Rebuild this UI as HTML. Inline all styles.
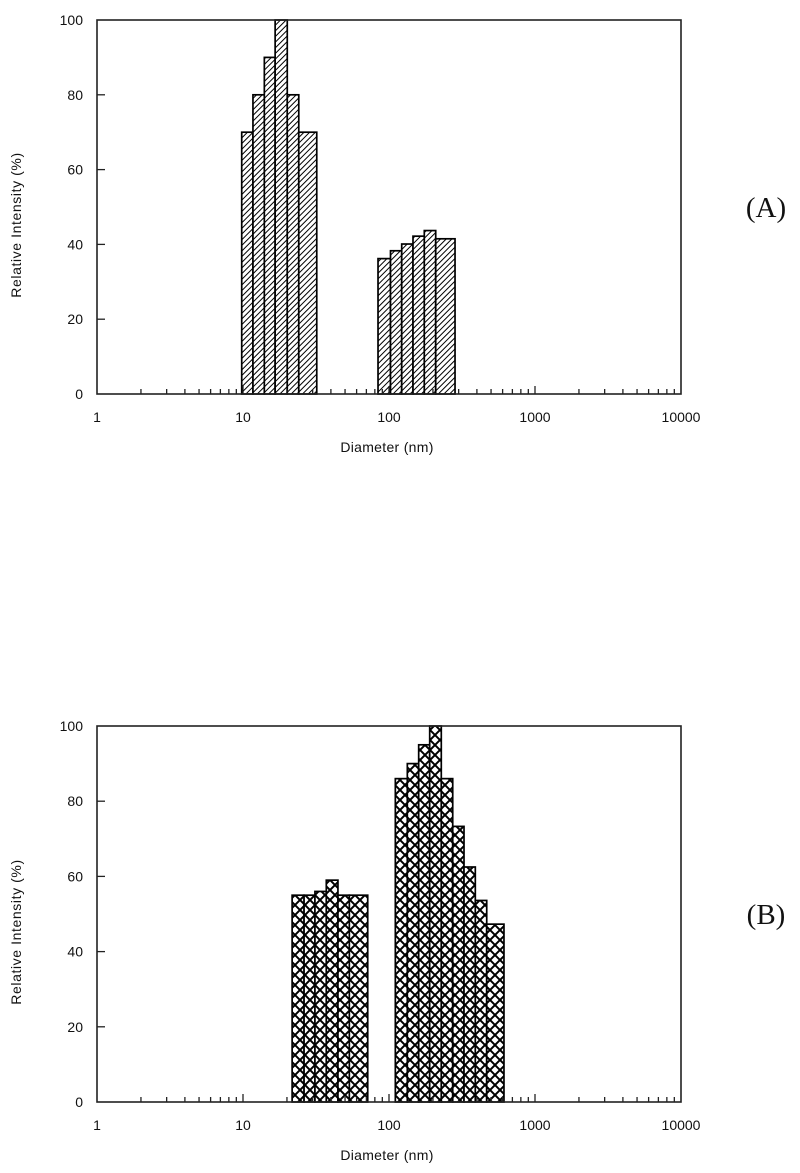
<!DOCTYPE html>
<html><head><meta charset="utf-8"><style>
html,body{margin:0;padding:0;background:#fff;}
svg{display:block;font-family:"Liberation Sans",sans-serif;}
</style></head><body>
<svg id="fig" width="800" height="1173" viewBox="0 0 800 1173">
<defs>
<pattern id="hatchA" patternUnits="userSpaceOnUse" width="4" height="4" patternTransform="rotate(45)">
<rect width="4" height="4" fill="#fff"/><line x1="0" y1="0" x2="0" y2="4" stroke="#000" stroke-width="2"/>
</pattern>
<pattern id="hatchB" patternUnits="userSpaceOnUse" width="10" height="10">
<rect width="10" height="10" fill="#fff"/>
<path d="M0,0 L10,10 M10,0 L0,10" stroke="#000" stroke-width="2"/>
</pattern>
</defs>
</svg>
<script>
// Panel A data
const edgesA1 = [9.8, 11.7, 14.0, 16.6, 20.1, 24.1, 32.0];
const valuesA1 = [70, 80, 90, 100, 80, 70];
const edgesA2 = [84.1, 102.4, 122.2, 146.0, 174.5, 208.9, 283.3];
const valuesA2 = [36.2, 38.3, 40.1, 42.2, 43.7, 41.5];
// Panel B data
const edgesB1 = [21.7, 26.2, 31.1, 37.2, 44.7, 53.5, 71.5];
const valuesB1 = [55, 55, 56, 59, 55, 55];
const edgesB2 = [110.5, 133.5, 159.7, 190.0, 228.1, 273.2, 326.4, 390.1, 467, 613];
const valuesB2 = [86, 90, 95, 100, 86, 73.3, 62.5, 53.6, 47.3];
const xTickLabels = ["1", "10", "100", "1000", "10000"];
const yTickLabels = ["0", "20", "40", "60", "80", "100"];

const NS = "http://www.w3.org/2000/svg";
const svg = document.getElementById("fig");
function mk(tag, attrs, parent) {
  const e = document.createElementNS(NS, tag);
  for (const k in attrs) e.setAttribute(k, attrs[k]);
  (parent || svg).appendChild(e);
  return e;
}
const X0 = 97, X1 = 681;
function xScale(d) { return X0 + (Math.log10(d) / 4) * (X1 - X0); }

function panel(key, top, bottom, groups, fill, label) {
  const g = mk("g", {});
  
  
  const yScale = v => bottom - (v / 100) * (bottom - top);
  groups.forEach((grp, gi) => {
    const [edges, vals] = grp;
    vals.forEach((v, i) => {
      const xl = xScale(edges[i]), xr = xScale(edges[i + 1]);
      const r = mk("rect", {x: xl, y: yScale(v), width: xr - xl, height: bottom - yScale(v), fill: fill, stroke: "#000", "stroke-width": 1.7}, g);
      
      
    });
  });
  const fr = mk("rect", {x: X0, y: top, width: X1 - X0, height: bottom - top, fill: "none", stroke: "#222", "stroke-width": 1.6}, g);
  
  
  yTickLabels.forEach((t, i) => {
    const v = +t, y = yScale(v);
    if (v > 0 && v < 100) mk("line", {x1: X0, x2: X0 + 8, y1: y, y2: y, stroke: "#222", "stroke-width": 1.3}, g);
    const tx = mk("text", {x: X0 - 14, y: y + 5, "text-anchor": "end", "font-size": 14, fill: "#111"}, g);
    tx.textContent = t;
    
    
  });
  for (let dec = 0; dec < 4; dec++) {
    for (let m = 2; m <= 10; m++) {
      const d = m * Math.pow(10, dec);
      if (d >= 10000) continue;
      const x = xScale(d);
      mk("line", {x1: x, x2: x, y1: bottom, y2: bottom - (m === 10 ? 8 : 5), stroke: "#222", "stroke-width": 1.3}, g);
    }
  }
  xTickLabels.forEach((t, i) => {
    const tx = mk("text", {x: xScale(+t), y: bottom + 28, "text-anchor": "middle", "font-size": 14, fill: "#111"}, g);
    tx.textContent = t;
    
    
  });
  const xt = mk("text", {x: 387, y: bottom + 58, "text-anchor": "middle", "font-size": 14, fill: "#111", "letter-spacing": "0.3"}, g);
  xt.textContent = "Diameter (nm)";
  
  
  const cy = (top + bottom) / 2 + 18;
  const yt = mk("text", {x: 0, y: 0, transform: "translate(21," + cy + ") rotate(-90)", "text-anchor": "middle", "font-size": 14, fill: "#111", "letter-spacing": "0.6"}, g);
  yt.textContent = "Relative Intensity (%)";
  
  
  const pl = mk("text", {x: 766, y: cy - 8, "text-anchor": "middle", "font-size": 29, "font-family": "Liberation Serif, serif", fill: "#111"}, g);
  pl.textContent = label;
  
  
}
panel("a", 20, 394, [[edgesA1, valuesA1], [edgesA2, valuesA2]], "url(#hatchA)", "(A)");
panel("b", 726, 1102, [[edgesB1, valuesB1], [edgesB2, valuesB2]], "url(#hatchB)", "(B)");
</script>
</body></html>
